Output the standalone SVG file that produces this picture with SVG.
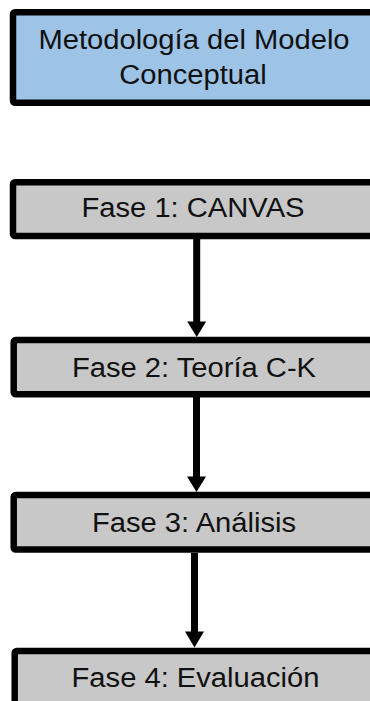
<svg xmlns="http://www.w3.org/2000/svg" width="370" height="701" viewBox="0 0 370 701">
  <defs>
    <style>
      .box { stroke: #000; stroke-width: 6.5; }
      .title { fill: #9dc3e6; }
      .phase { fill: #c8c8c8; }
      .label { font-family: "Liberation Sans", Arial, sans-serif; font-size: 27px; fill: #111; text-anchor: middle; }
      .link { stroke: #000; stroke-width: 7; fill: none; }
      .head { fill: #000; }
    </style>
  </defs>
  <rect width="370" height="701" fill="#fff"/>

  <!-- connectors between the phases -->
  <g id="connectors">
    <line class="link" x1="196.7" y1="239" x2="196.7" y2="323"/>
    <polygon class="head" points="187.2,321.5 206.2,321.5 196.7,337"/>
    <line class="link" x1="196.5" y1="397" x2="196.5" y2="478"/>
    <polygon class="head" points="187,476.5 206,476.5 196.5,492"/>
    <line class="link" x1="194.5" y1="553" x2="194.5" y2="633"/>
    <polygon class="head" points="185,631.5 204,631.5 194.5,647.5"/>
  </g>

  <g id="node-methodology">
    <rect class="box title" x="13" y="12.3" width="400" height="90.5" rx="2"/>
    <text class="label" transform="translate(194,49.3) scale(1.08,1)">Metodología del Modelo</text>
    <text class="label" transform="translate(193,84) scale(1.08,1)">Conceptual</text>
  </g>

  <g id="node-phase1">
    <rect class="box phase" x="13" y="182.2" width="400" height="53.8" rx="2"/>
    <text class="label" transform="translate(193,216.7) scale(1.08,1)">Fase 1: CANVAS</text>
  </g>

  <g id="node-phase2">
    <rect class="box phase" x="13.7" y="340" width="400" height="54.2" rx="2"/>
    <text class="label" transform="translate(194,376.7) scale(1.08,1)">Fase 2: Teoría C-K</text>
  </g>

  <g id="node-phase3">
    <rect class="box phase" x="13.7" y="495" width="400" height="54.5" rx="2"/>
    <text class="label" transform="translate(194,532.3) scale(1.08,1)">Fase 3: Análisis</text>
  </g>

  <g id="node-phase4">
    <rect class="box phase" x="14.7" y="651" width="400" height="80" rx="2"/>
    <text class="label" transform="translate(195.5,686.7) scale(1.08,1)">Fase 4: Evaluación</text>
  </g>
</svg>
